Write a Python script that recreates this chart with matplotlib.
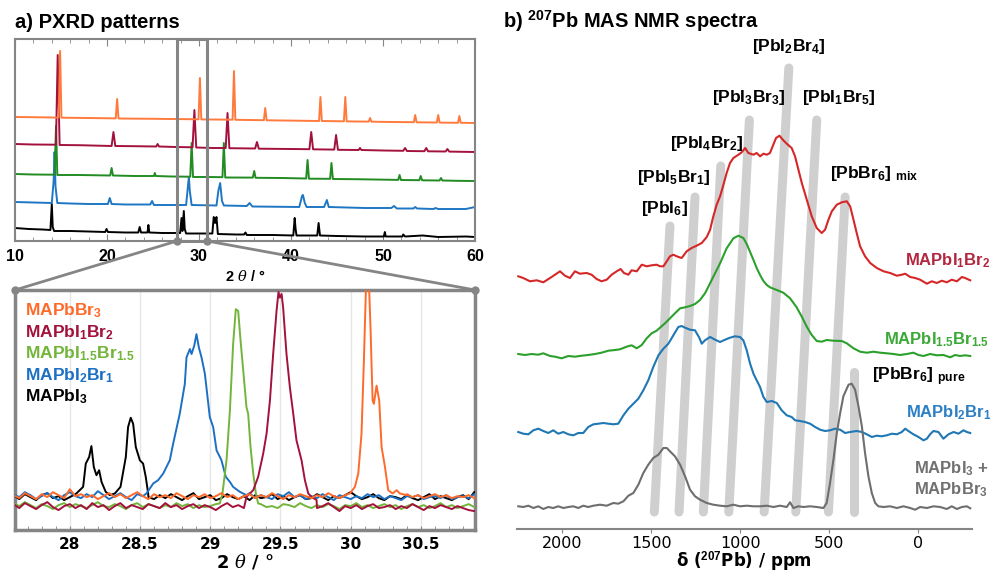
import numpy as np
import matplotlib
matplotlib.use('Agg')  # no GUI
import matplotlib.pyplot as plt
from matplotlib.patches import Rectangle, ConnectionPatch

plt.rcParams['mathtext.fontset'] = 'custom'
plt.rcParams['mathtext.rm'] = 'Liberation Sans:bold'
plt.rcParams['mathtext.bf'] = 'Liberation Sans:bold'
plt.rcParams['mathtext.it'] = 'DejaVu Serif:italic'

# ---------------- a) PXRD, full range (2theta, stacked intensity) ----------------
xrd_black = [(10.0, 13), (11.5, 12), (13.0, 11.5), (13.85, 11), (14.0, 37), (14.1, 14), (14.25, 10),
             (16.0, 10), (18.0, 9.5), (19.8, 9), (19.95, 12), (20.1, 9), (22.0, 8.5), (23.4, 8.5),
             (23.55, 14), (23.7, 8.5), (24.4, 8.5), (24.5, 16), (24.6, 8.5), (26.0, 8), (27.95, 8),
             (28.1, 23), (28.2, 10), (28.35, 30), (28.45, 12), (28.6, 7.5), (30.0, 7.5), (31.45, 7.5),
             (31.6, 24), (31.75, 18), (31.9, 24), (32.05, 7), (34.0, 6.5), (34.9, 6.5), (35.05, 8.5),
             (35.2, 6), (38.0, 6), (40.25, 5.5), (40.4, 23), (40.5, 12), (40.6, 5.5), (42.85, 5.5),
             (43.0, 18), (43.15, 5.5), (45.0, 5), (48.0, 4.5), (50.1, 4.5), (50.2, 9), (50.3, 4.5),
             (52.1, 4.5), (52.2, 6.5), (52.4, 4.5), (54.3, 5.5), (56.0, 4), (59.0, 4.5), (60.0, 4)]
xrd_blue = [(10, 39), (12, 38.5), (14.0, 38), (14.2, 60), (14.3, 89), (14.4, 55), (14.6, 38), (16, 37.5),
            (18, 37), (20.1, 37), (20.3, 43), (20.5, 37), (22, 36.5), (24.7, 36.5), (24.9, 40), (25.1, 36),
            (28.6, 36), (28.8, 55), (28.9, 64), (29.0, 50), (29.2, 36), (31.9, 35.5), (32.1, 50),
            (32.3, 58), (32.5, 40), (32.7, 35.5), (35.2, 35), (35.5, 38), (35.8, 34.5), (40.9, 34),
            (41.2, 45), (41.3, 46), (41.5, 38), (41.7, 34), (43.6, 34), (43.9, 41), (44.1, 34), (48, 33),
            (50.9, 33), (51.2, 35), (51.5, 32.5), (53.3, 32.5), (53.5, 34), (53.7, 32.5), (55.5, 32),
            (55.7, 33), (56, 32), (59, 32), (60, 34)]
xrd_green = [(10, 67), (12, 66.5), (14.3, 66.3), (14.46, 115), (14.6, 66), (17, 66), (20.35, 65.5),
             (20.5, 73), (20.65, 65.5), (23, 65), (25.1, 65), (25.2, 68), (25.3, 65), (27, 64.5),
             (29.05, 64.3), (29.2, 98), (29.35, 64), (31, 64), (32.55, 63.8), (32.7, 98), (32.85, 63.5),
             (35.85, 63.4), (36.0, 70), (36.15, 63.2), (39, 63), (41.65, 62.5), (41.8, 81), (41.95, 62.3),
             (44.25, 62.2), (44.4, 78), (44.55, 62), (47, 61.8), (51.65, 61.1), (51.8, 66), (51.95, 61),
             (53.95, 60.8), (54.1, 65), (54.25, 60.7), (56.15, 60.5), (56.3, 63), (56.45, 60.5),
             (58, 60.2), (60, 60)]
xrd_red = [(10, 97), (12, 96.5), (14.45, 96.3), (14.64, 186), (14.85, 96), (17, 95.8), (20.5, 95),
           (20.7, 109), (20.9, 95), (23, 94.8), (25.35, 94.5), (25.5, 97), (25.65, 94.5), (27.5, 94),
           (29.3, 93.7), (29.5, 131), (29.7, 93.5), (31.5, 93), (32.9, 93), (33.1, 128), (33.3, 92.8),
           (36.1, 92.5), (36.3, 99), (36.5, 92.3), (40, 92), (42.0, 91.8), (42.2, 109), (42.4, 91.7),
           (44.7, 91.4), (44.9, 106), (45.1, 91.2), (47.35, 91), (47.5, 93), (47.65, 91), (50, 90.5),
           (52.2, 90.2), (52.4, 93), (52.6, 90), (54.5, 89.8), (54.7, 93), (54.9, 89.7), (56.8, 89.5),
           (57.0, 92), (57.2, 89.4), (60, 89)]
xrd_orange = [(10, 124), (12, 123.8), (14.75, 123.4), (14.9, 190), (15.05, 123.3), (18, 123),
              (20.95, 122.6), (21.1, 142), (21.25, 122.5), (25, 122.2), (29.95, 121.7), (30.1, 163),
              (30.25, 121.6), (33.65, 121.3), (33.8, 170), (33.95, 121.2), (37.05, 120.8), (37.2, 133),
              (37.35, 120.7), (40, 120.4), (43.05, 120), (43.2, 144), (43.35, 120), (45.75, 119.7),
              (45.9, 144), (46.05, 119.6), (48.45, 119.4), (48.6, 123), (48.75, 119.3), (51, 119),
              (53.35, 118.8), (53.5, 126), (53.65, 118.7), (55.85, 118.5), (56.0, 126), (56.15, 118.4),
              (58.15, 118.2), (58.3, 125), (58.45, 118.2), (60, 118)]

# ---------------- a) PXRD, zoom 27.6 - 30.9 ----------------
zoom_lo, zoom_hi = 27.61, 30.885
noise_x = np.round(np.arange(27.60, 30.89, 0.04), 2)
black_noise = [35, 31, 36, 33, 30, 35, 37, 32, 34, 30, 33, 36, 31, 35, 33, 37, 34, 31, 33, 35,
               32, 36, 30, 34, 33, 31, 35, 32, 36, 33, 30, 34, 37, 31, 33, 35, 30, 32, 36, 33,
               31, 34, 30, 35, 32, 33, 36, 31, 34, 30, 33, 35, 31, 32, 36, 33, 30, 34, 32, 35,
               38, 34, 31, 33, 36, 32, 30, 34, 33, 31, 35, 32, 30, 33, 36, 31, 34, 32, 30, 33, 35, 31, 38]
blue_noise = [36, 33, 38, 35, 31, 34, 37, 33, 30, 35, 38, 34, 32, 36, 33, 39, 35, 31, 34, 37,
              33, 30, 36, 34, 32, 35, 33, 31, 36, 34, 32, 35, 37, 33, 31, 34, 36, 32, 35, 33,
              30, 34, 37, 32, 35, 33, 31, 36, 34, 38, 33, 35, 31, 34, 32, 36, 33, 30, 35, 33,
              31, 34, 32, 36, 33, 35, 31, 34, 32, 30, 34, 33, 35, 31, 33, 34, 32, 35, 31, 33, 34, 32, 36]
green_noise = [27, 24, 28, 25, 22, 26, 24, 21, 25, 27, 23, 26, 24, 22, 25, 28, 24, 23, 26, 24,
               21, 25, 27, 23, 26, 24, 22, 25, 23, 27, 24, 26, 22, 25, 23, 24, 26, 22, 25, 27,
               23, 24, 21, 25, 26, 23, 24, 22, 26, 25, 23, 27, 24, 22, 25, 23, 26, 24, 21, 25,
               24, 27, 23, 25, 22, 24, 26, 23, 25, 21, 24, 26, 23, 25, 22, 24, 27, 23, 25, 22, 24, 26, 23]
red_noise = [26, 22, 27, 24, 21, 25, 28, 23, 20, 24, 26, 22, 25, 21, 27, 23, 25, 20, 24, 27,
             22, 25, 23, 21, 26, 24, 22, 27, 23, 25, 21, 24, 26, 22, 25, 23, 20, 24, 27, 23,
             25, 22, 24, 26, 21, 25, 23, 27, 22, 24, 26, 23, 20, 25, 22, 24, 27, 23, 19, 24,
             22, 25, 21, 24, 26, 22, 23, 25, 21, 24, 22, 26, 23, 20, 24, 22, 25, 23, 21, 24, 22, 20, 19]
orange_noise = [35, 32, 37, 34, 31, 36, 33, 38, 35, 32, 41, 34, 36, 33, 35, 31, 34, 37, 33, 36,
                32, 35, 38, 34, 31, 36, 33, 35, 32, 37, 34, 31, 35, 33, 36, 32, 34, 37, 33, 35,
                31, 34, 36, 32, 35, 33, 37, 34, 31, 35, 33, 36, 34, 32, 35, 33, 37, 34, 32, 35,
                33, 36, 34, 38, 36, 37, 35, 39, 36, 34, 36, 33, 35, 32, 34, 36, 33, 35, 32, 34, 33, 35, 32]

black_peak = [(28.047, 36.7), (28.095, 43.3), (28.114, 66.7), (28.138, 73.3), (28.154, 84.3), (28.171, 63.3),
              (28.190, 55), (28.209, 60), (28.226, 48.3), (28.256, 38.3), (28.285, 35), (28.321, 36.7),
              (28.361, 43.3), (28.399, 73.3), (28.415, 103.3), (28.434, 112.7), (28.451, 106.7),
              (28.470, 83.3), (28.499, 70), (28.522, 66.7), (28.541, 53.3), (28.558, 36.7)]
blue_peak = [(28.546, 36.7), (28.594, 46.7), (28.629, 50), (28.665, 56.7), (28.712, 70), (28.736, 86.7),
             (28.783, 116.7), (28.819, 146.7), (28.831, 173.3), (28.855, 181.7), (28.867, 176.7),
             (28.886, 185), (28.902, 196.7), (28.919, 183.3), (28.938, 173.3), (28.962, 156.7),
             (28.997, 113.3), (29.021, 103.3), (29.045, 80), (29.080, 70), (29.111, 53.3), (29.140, 48.3),
             (29.163, 43.3), (29.211, 38.3), (29.258, 35)]
green_peak = [(29.068, 26.7), (29.087, 36.7), (29.116, 70), (29.140, 120), (29.163, 186.7), (29.182, 221.7),
              (29.199, 220), (29.216, 190), (29.235, 160), (29.258, 123.3), (29.270, 116.7),
              (29.287, 83.3), (29.306, 56.7), (29.325, 36.7), (29.341, 26.7)]
red_peak = [(29.258, 33.3), (29.306, 40), (29.341, 53.3), (29.377, 76.7), (29.401, 96.7), (29.425, 130),
            (29.448, 176.7), (29.472, 220), (29.486, 239), (29.496, 233.3), (29.508, 237), (29.519, 223.3),
            (29.543, 176.7), (29.567, 143.3), (29.591, 116.7), (29.614, 90), (29.650, 70), (29.674, 50),
            (29.698, 36.7), (29.721, 33.3), (29.757, 30)]
orange_peak = [(29.994, 36.7), (30.030, 43.3), (30.054, 56.7), (30.077, 96.7), (30.094, 170), (30.108, 240),
               (30.113, 262), (30.125, 262), (30.132, 240), (30.141, 203.3), (30.156, 130), (30.165, 126.7),
               (30.184, 145), (30.203, 130), (30.220, 83.3), (30.244, 63.3), (30.267, 40), (30.298, 36.7),
               (30.327, 40), (30.350, 36.7), (30.398, 35)]

zoom_labels = ['MAPbBr$_3$', 'MAPbI$_1$Br$_2$', 'MAPbI$_{1.5}$Br$_{1.5}$', 'MAPbI$_2$Br$_1$', 'MAPbI$_3$']
zoom_colors = ['#ff6a2a', '#a3113d', '#72b53a', '#1c70c4', '#000000']
top_colors = ['#ff7a3c', '#a3113d', '#228b22', '#1f77c4', '#000000']

# ---------------- b) 207Pb MAS NMR (ppm, intensity above own baseline) ----------------
nmr_red = [(2249, 1.7), (2221, 0), (2183, -3.3), (2145, -2.3), (2108, -4.3), (2070, 0), (2042, 3.3), (2014, 6.7),
           (1986, 2.3), (1958, 0), (1930, 6.7), (1902, 4.3), (1864, 5), (1836, 3.3), (1808, -1), (1780, -3.3),
           (1751, -1.7), (1723, 3.3), (1695, 6.7), (1673, 9), (1654, 5), (1629, 3.3), (1611, 7.7), (1582, 6.7),
           (1554, 13.3), (1526, 11.7), (1498, 12.7), (1470, 13.3), (1451, 11.7), (1432, 11.7), (1413, 16.7),
           (1395, 21.7), (1376, 23.3), (1357, 21.7), (1329, 20), (1301, 26.7), (1273, 30), (1245, 32.3),
           (1216, 35), (1188, 41), (1169, 48.3), (1151, 61.7), (1132, 73.3), (1113, 81.7), (1094, 93.3),
           (1076, 105), (1057, 115), (1038, 120), (1010, 123.3), (991, 125.7), (972, 130), (954, 125),
           (925, 123.3), (907, 125), (888, 121.7), (869, 124.3), (850, 123.3), (832, 125), (817, 131.7),
           (798, 140), (779, 142.3), (760, 138.3), (738, 134.3), (710, 130), (691, 121.7), (672, 108.3),
           (653, 95), (625, 78.3), (597, 61.7), (569, 50), (541, 45), (522, 48.3), (503, 58.3), (484, 66.7),
           (456, 73.3), (428, 75.7), (400, 76.7), (381, 71.7), (362, 58.3), (344, 45), (325, 31.7),
           (297, 21.7), (268, 15), (231, 10), (193, 6.7), (156, 5), (118, 2.3), (90, 3.3), (71, 4.3), (43, 1),
           (15, 0), (-13, -1.7), (-51, -5.7), (-79, -3.3), (-107, -5), (-135, -2.7), (-163, -4.3),
           (-191, -1.7), (-220, -3.3), (-248, 1), (-266, 0), (-295, -2.3)]
nmr_green = [(2249, 0), (2211, -1), (2174, 0), (2136, -0.7), (2108, 0.7), (2070, -2), (2042, -2.7), (2005, -4.3),
             (1967, -2), (1930, -2.7), (1892, -1.7), (1855, -1), (1817, 0), (1780, 1.3), (1742, 3.3), (1704, 4),
             (1676, 4.7), (1639, 7.3), (1611, 8.7), (1582, 5.7), (1554, 9), (1526, 15.7), (1498, 20.7),
             (1470, 23.3), (1451, 26.3), (1423, 30.7), (1395, 35.7), (1367, 40.7), (1338, 45.7), (1310, 46.7),
             (1282, 48), (1254, 50), (1226, 54), (1198, 60.7), (1188, 64), (1151, 77.3), (1113, 90.7),
             (1076, 105.7), (1038, 115.7), (1010, 118.3), (982, 116), (963, 110), (944, 102), (925, 94),
             (907, 86), (888, 79), (869, 73), (850, 69), (832, 66.7), (794, 64), (757, 61.3), (719, 55.7),
             (682, 46.7), (653, 37.3), (625, 27.3), (597, 19), (569, 13), (541, 12.3), (513, 14), (475, 13.3),
             (428, 13), (400, 10.7), (362, 5.7), (325, 2.3), (287, 1.3), (250, 2.3), (212, 1.3), (175, 0.7),
             (137, 0), (100, -1), (62, 0), (25, 1.3), (-4, -1), (-32, -2), (-69, 0), (-107, -1.3), (-144, -1),
             (-182, -3.3), (-210, -1), (-238, -2), (-266, -1.3), (-295, -2)]
nmr_blue = [(2249, 0), (2221, -1.7), (2192, -2.3), (2164, 1.7), (2136, 3.3), (2108, 1), (2080, -1), (2052, 1.7),
            (2024, -1.7), (1995, 0), (1967, -2.3), (1939, -3.3), (1911, -1), (1883, -1), (1855, 5), (1826, 7.7),
            (1798, 8.3), (1770, 9), (1742, 8.3), (1714, 7.7), (1686, 8.3), (1657, 16.7), (1629, 23.3),
            (1601, 28.3), (1573, 33.3), (1545, 41.7), (1517, 51.7), (1489, 65), (1460, 76.7), (1432, 83.3),
            (1404, 88.3), (1376, 96.7), (1348, 105), (1329, 106), (1310, 104.3), (1282, 102.3), (1254, 101.7),
            (1230, 94.3), (1216, 88.3), (1198, 91.7), (1169, 95), (1141, 92.3), (1113, 90), (1085, 92.3),
            (1057, 94.3), (1029, 95.7), (1001, 95), (982, 91.7), (963, 81.7), (944, 68.3), (925, 58.3),
            (907, 51.7), (888, 45), (869, 35), (850, 30), (822, 31), (794, 29), (766, 21.7), (738, 16.7),
            (710, 15), (691, 11.7), (663, 11), (635, 10), (606, 8.3), (578, 5), (550, 2.3), (522, 1), (494, 1.7),
            (466, 3.3), (437, 2.3), (409, -1), (381, 0), (344, 1), (315, 0), (287, -2.3), (259, -5), (231, -3.7),
            (203, -4.3), (175, -3.3), (146, -1.7), (118, -2.3), (90, 0), (71, 3.3), (53, 1), (25, -2.3), (-4, -5),
            (-32, -8.3), (-51, -6.7), (-69, -2.3), (-88, 1), (-116, 0), (-144, -6.7), (-173, -2.3), (-201, 0),
            (-229, -1.7), (-257, 1.7), (-276, 0), (-295, -1)]
nmr_gray = [(2249, 0.7), (2221, 0), (2192, 1.3), (2164, -1), (2136, 0.7), (2108, -2), (2080, 0), (2052, -1),
            (2024, 0.7), (1995, -1), (1967, 0), (1939, 0.7), (1911, -1), (1883, 1.3), (1855, 0), (1826, 1.3),
            (1789, 2.3), (1751, 1.3), (1714, 4), (1686, 3.3), (1657, 5.7), (1629, 11.3), (1601, 14),
            (1573, 22.3), (1545, 34), (1517, 42.3), (1489, 49), (1460, 52.3), (1432, 59), (1413, 59),
            (1395, 55.7), (1367, 50.7), (1338, 42.3), (1310, 30.7), (1282, 17.3), (1254, 10.7), (1226, 7.3),
            (1188, 4), (1151, 2.3), (1113, 1.3), (1076, 0.7), (1038, 2.3), (1001, 0.7), (963, 1.3), (925, 0.7),
            (888, 0.7), (850, 1.3), (813, 0), (775, 1.3), (738, 0), (719, 4.7), (700, -1), (672, 0.7), (644, 0),
            (606, 0.7), (569, 0), (531, -1), (513, 4), (494, 24), (475, 47.3), (456, 74), (437, 94),
            (419, 110.7), (390, 122.3), (372, 123.3), (353, 117.3), (334, 100.7), (315, 80.7), (297, 54),
            (278, 30.7), (259, 14), (240, 4), (222, 0.7), (193, 0), (156, 0.7), (118, -1), (81, 0.7), (43, -1),
            (15, -2.7), (-13, 0), (-51, -1), (-88, 0.7), (-126, 0), (-163, -2), (-191, 0.7), (-220, -2),
            (-248, 0), (-276, 0.7), (-295, -1.3)]
nmr_offsets = [251, 175, 97, 22]
nmr_colors = ['#d62728', '#2ca02c', '#1f77b4', '#6e6e6e']

# highlighted Pb environments: bottom ppm, top ppm, top height
env_labels = ['[PbI$_6$]', '[PbI$_5$Br$_1$]', '[PbI$_4$Br$_2$]', '[PbI$_3$Br$_3$]', '[PbI$_2$Br$_4$]',
              '[PbI$_1$Br$_5$]', '[PbBr$_6$] $_{\\mathrm{mix}}$', '[PbBr$_6$] $_{\\mathrm{pure}}$']
env_ppm_bottom = [1483, 1344, 1207, 1064, 865, 687, 503, 358]
env_ppm_top = [1395, 1254, 1109, 948, 726, 569, 409, 358]
env_top = [303, 332, 363, 409, 461, 409, 332, 157]
env_label_xy = [(1558, 316), (1581, 347), (1395, 381), (1158, 427), (933, 478), (652, 427), (494, 351), (258, 149)]

sample_labels = ['MAPbI$_1$Br$_2$', 'MAPbI$_{1.5}$Br$_{1.5}$', 'MAPbI$_2$Br$_1$', 'MAPbI$_3$ +', 'MAPbBr$_3$']
sample_label_xy = [(72, 264), (190, 185), (66, 112), (21, 56), (21, 35)]
sample_label_colors = ['#b2263f', '#3aa935', '#2b7fc4', '#707070', '#707070']

W, H = 998, 573
GRAY = '#858585'
fig = plt.figure(figsize=(W / 100, H / 100), dpi=100)


def box(x0, y0, x1, y1):
    # pixel box -> figure fraction
    return [x0 / W, 1 - y1 / H, (x1 - x0) / W, (y1 - y0) / H]


ax_top = fig.add_axes(box(15, 39, 475, 241))
ax_bot = fig.add_axes(box(15, 290, 475, 530))
ax_nmr = fig.add_axes(box(517, 40, 972, 529))

# ---- top panel
for pts, col in zip([xrd_black, xrd_blue, xrd_green, xrd_red, xrd_orange], top_colors[::-1]):
    arr = np.array(pts)
    ax_top.plot(arr[:, 0], arr[:, 1], color=col, lw=1.4)
ax_top.set_xlim(10, 60)
ax_top.set_ylim(0, 202)
ax_top.set_yticks([])
ax_top.set_xticks(np.arange(10, 61, 10))
ax_top.set_xticks(np.arange(10, 61, 2), minor=True)
ax_top.tick_params(axis='x', which='both', direction='in', top=True, color=GRAY, pad=6)
ax_top.tick_params(axis='x', which='major', length=5)
ax_top.tick_params(axis='x', which='minor', length=3)
for lab in ax_top.get_xticklabels():
    lab.set_fontfamily('Liberation Sans')
    lab.set_fontweight('bold')
    lab.set_fontsize(11.5)
for sp in ax_top.spines.values():
    sp.set_color(GRAY)
    sp.set_linewidth(1.5)
ax_top.add_patch(Rectangle((zoom_lo, 0), zoom_hi - zoom_lo, 202, fill=False, ec=GRAY, lw=2.2,
                           clip_on=False, zorder=5))
ax_top.plot([zoom_lo, zoom_hi], [0, 0], 'o', ms=5, color=GRAY, clip_on=False, zorder=6)
fig.text(245 / W, 1 - 276 / H, '2 $\\theta$ / °', ha='center', va='center', fontsize=10.5,
         fontweight='bold', family='Liberation Sans')

# ---- zoom panel
noise = [orange_noise, red_noise, green_noise, blue_noise, black_noise]
peaks = [orange_peak, red_peak, green_peak, blue_peak, black_peak]
for nz, pk, col in zip(noise[::-1], peaks[::-1], zoom_colors[::-1]):
    pk = np.array(pk)
    keep = (noise_x < pk[0, 0]) | (noise_x > pk[-1, 0])
    x = np.concatenate([noise_x[keep], pk[:, 0]])
    y = np.concatenate([np.array(nz)[keep], pk[:, 1]])
    order = np.argsort(x)
    ax_bot.plot(x[order], y[order], color=col, lw=1.4, zorder=3)
ax_bot.set_xlim(zoom_lo, zoom_hi)
ax_bot.set_ylim(0, 241)
ax_bot.set_yticks([])
ax_bot.set_xticks(np.arange(28, 30.6, 0.5))
ax_bot.set_xticklabels(['28', '28.5', '29', '29.5', '30', '30.5'])
ax_bot.set_xticks(np.arange(27.7, 30.9, 0.1), minor=True)
ax_bot.tick_params(axis='x', which='both', direction='in', color=GRAY, length=3, pad=5)
ax_bot.grid(axis='x', which='major', color='#e6e6e6', lw=1)
for lab in ax_bot.get_xticklabels():
    lab.set_fontfamily('DejaVu Sans')
    lab.set_fontweight('bold')
    lab.set_fontsize(11)
for sp in ax_bot.spines.values():
    sp.set_color(GRAY)
    sp.set_linewidth(2.5)
ax_bot.plot([zoom_lo, zoom_hi], [241, 241], 'o', ms=5, color=GRAY, clip_on=False, zorder=6)
for xa in [zoom_lo, zoom_hi]:
    con = ConnectionPatch(xyA=(xa, 0), coordsA=ax_top.transData, xyB=(xa, 241), coordsB=ax_bot.transData,
                          color=GRAY, lw=2)
    fig.add_artist(con)
leg_y = [0.896, 0.804, 0.717, 0.625, 0.5375]
for lab, col, yy in zip(zoom_labels, zoom_colors, leg_y):
    ax_bot.text(0.022, yy, lab, transform=ax_bot.transAxes, color=col, fontsize=12.5,
                fontweight='bold', family='Liberation Sans', va='baseline')
fig.text(245 / W, 1 - 562 / H, '2 $\\theta$ / °', ha='center', va='center', fontsize=13,
         fontweight='bold', family='DejaVu Sans')

# ---- NMR panel
for x0, x1, yt in zip(env_ppm_bottom, env_ppm_top, env_top):
    ax_nmr.plot([x0, x1], [17, yt], color='#cfcfcf', lw=6.5, solid_capstyle='round', zorder=1)
for pts, off, col in zip([nmr_red, nmr_green, nmr_blue, nmr_gray], nmr_offsets, nmr_colors):
    arr = np.array(pts)
    ax_nmr.plot(arr[:, 0], arr[:, 1] + off, color=col, lw=1.5, zorder=3)
for lab, (xx, yy) in zip(env_labels, env_label_xy):
    ax_nmr.text(xx, yy, lab, fontsize=12.5, fontweight='bold', family='Liberation Sans',
                va='baseline', ha='left', zorder=4)
for lab, (xx, yy), col in zip(sample_labels, sample_label_xy, sample_label_colors):
    ax_nmr.text(xx, yy, lab, fontsize=12, fontweight='bold', family='Liberation Sans',
                color=col, va='baseline', ha='left', zorder=4)
ax_nmr.set_xlim(2256, -305)
ax_nmr.set_ylim(0, 489)
ax_nmr.set_yticks([])
ax_nmr.set_xticks([2000, 1500, 1000, 500, 0])
ax_nmr.tick_params(axis='x', color=GRAY, length=3, labelsize=11.5, pad=2)
for sp in ['top', 'left', 'right']:
    ax_nmr.spines[sp].set_visible(False)
ax_nmr.spines['bottom'].set_color(GRAY)
ax_nmr.spines['bottom'].set_linewidth(1.5)
fig.text(744 / W, 1 - 561 / H, 'δ ($^{207}$Pb) / ppm', ha='center', va='center', fontsize=12,
         fontweight='bold', family='DejaVu Sans')

# titles
fig.text(15 / W, 1 - 28 / H, 'a) PXRD patterns', fontsize=14.5, fontweight='bold',
         family='Liberation Sans', va='baseline')
fig.text(503 / W, 1 - 28 / H, 'b) $^{207}$Pb MAS NMR spectra', fontsize=14.5, fontweight='bold',
         family='Liberation Sans', va='baseline')

fig.savefig('out.png', dpi=100)
